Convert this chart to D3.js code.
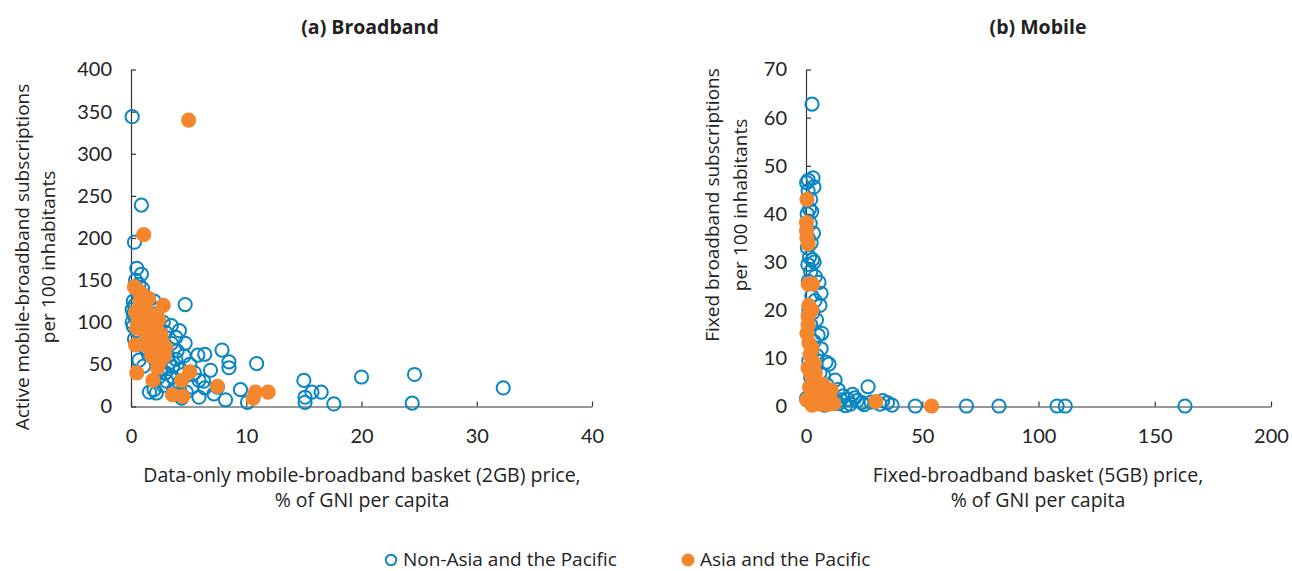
<!DOCTYPE html>
<html><head><meta charset="utf-8">
<script src="https://cdn.jsdelivr.net/npm/d3@7"></script>
<style>
body{margin:0;background:#fff;}
svg{display:block;font-family:"Open Sans",Lato,sans-serif;}
</style></head>
<body><svg id="c" width="1292" height="571"></svg>
<script>
// ---- Data ----
const seriesNames = ["Non-Asia and the Pacific", "Asia and the Pacific"];
const panelTitles = ["(a) Broadband", "(b) Mobile"];
const yTitlesA = ["Active mobile-broadband subscriptions", "per 100 inhabitants"];
const xTitlesA = ["Data-only mobile-broadband basket (2GB) price,", "% of GNI per capita"];
const yTitlesB = ["Fixed broadband subscriptions", "per 100 inhabitants"];
const xTitlesB = ["Fixed-broadband basket (5GB) price,", "% of GNI per capita"];
const xTicksA = [0, 10, 20, 30, 40];
const yTicksA = [0, 50, 100, 150, 200, 250, 300, 350, 400];
const xTicksB = [0, 50, 100, 150, 200];
const yTicksB = [0, 10, 20, 30, 40, 50, 60, 70];

// Panel (a): [price %, subscriptions per 100]
const broadbandNonAsia = [[0.1,344],[0.9,239],[0.3,195],[0.5,164],[0.9,157],[0.4,150],[0.7,145],[1.0,140],[0.2,125],[0.3,120],[0.1,115],[0.2,110],[0.4,105],[0.1,100],[1.5,128],[2.0,125],[1.8,118],[0.6,135],[1.1,132],[2.3,115],[4.7,121],[3.5,96],[2.8,100],[3.0,88],[2.6,82],[4.7,75],[4.0,66],[5.8,61],[6.4,62],[7.9,67],[8.5,53],[8.5,46],[10.9,51],[6.9,43],[5.9,31],[5.3,23],[6.4,22],[7.5,23],[9.5,20],[2.0,20],[2.2,16],[1.6,17],[8.2,8],[10.1,5],[5.9,11],[3.6,47],[3.2,60],[2.9,70],[3.3,52],[3.0,40],[3.6,35],[4.2,28],[4.5,38],[3.9,56],[4.3,44],[2.5,55],[2.6,45],[3.1,30],[3.7,20],[4.0,15],[4.8,17],[5.1,50],[4.6,60],[3.5,75],[1.5,62],[1.2,70],[0.8,85],[1.0,95],[0.5,90],[0.3,80],[0.2,95],[2.4,35],[2.8,25],[4.4,10],[6.3,30],[7.2,15],[5.5,40],[15.0,31],[15.1,11],[15.1,5],[15.7,17],[16.5,17],[17.6,3],[20.0,35],[24.6,38],[24.4,4],[32.3,22],[1.3,105],[2.1,90],[1.9,80],[0.7,55],[1.1,48],[3.9,82],[2.2,72],[4.2,90]];
const broadbandAsia = [[0.3,142],[0.6,138],[1.0,133],[1.5,128],[0.8,125],[1.3,118],[0.4,112],[1.0,110],[1.9,108],[2.4,103],[0.6,100],[1.5,100],[2.1,95],[0.5,93],[1.2,88],[2.6,86],[1.7,82],[2.7,77],[0.4,73],[1.4,72],[2.2,68],[1.8,60],[2.5,53],[2.3,46],[0.5,40],[1.9,31],[5.1,41],[4.4,31],[3.6,14],[4.5,12],[7.5,24],[10.8,17],[11.9,17],[10.6,10],[5.0,340],[1.1,204],[2.8,120],[3.0,70],[2.9,60]];

// Panel (b): [price %, subscriptions per 100]
const mobileNonAsia = [[2.6,62.8],[3,47.5],[1,47],[0.3,46.5],[3.4,45.6],[0.9,44.8],[2,43],[1.5,41],[2.5,40.5],[0.5,40],[1.8,38],[3.2,36],[1,35],[2.2,34],[0.6,33],[1.5,31],[2.8,30.5],[3.5,30],[0.8,29.5],[2,28],[4,27],[1,26],[5.6,25.8],[6.5,23.5],[2.5,23],[3.9,22],[6,21],[1.2,20],[3,19.5],[4.5,18],[2,17],[5.2,14.8],[6.8,15.2],[3.5,13.5],[6.5,12],[2.5,11],[4.8,10.5],[8.6,9.2],[9.9,8.8],[1.2,9.5],[3.8,8],[6,7],[7.5,6.5],[12.5,5.5],[2,6],[4.5,5],[9,4.5],[13.8,3.5],[6.5,3.5],[0.2,1.7],[3,2.5],[11,2],[16,2.2],[18,1.5],[20,2.5],[22,1.2],[24,0.8],[26.7,4.1],[19,0.5],[14,0.6],[28,0.9],[31.8,0.5],[35,0.8],[37,0.3],[47,0.1],[69,0.1],[83,0.1],[108,0.1],[111.5,0.1],[163,0.1],[8,0.3],[12,0.7],[17,0.2],[21,1.8],[25,0.4],[33,1.2],[5,1],[10,1.2],[15,1.4]];
const mobileAsia = [[0.4,43],[0.2,38.2],[0.2,36.5],[0.4,35],[0.9,33.8],[1.0,25.4],[2.8,25.4],[0.9,18.8],[0.9,17],[0.4,15.2],[1.3,13.2],[1.7,10.7],[0.9,8],[2.2,6.6],[4.7,5],[7.3,4.6],[5.2,2.4],[3,1.4],[8.6,1.8],[10.3,1.4],[10.8,3.4],[0.3,1.4],[30,1],[54,0.1],[2.6,0.3],[6,0.5],[9,0.4],[12,0.6],[1.5,4],[3.5,9],[2.5,12],[4,7],[1.2,21],[2.5,20],[6.5,3]];

// ---- Drawing ----
const BLUE = "#0a86c3", ORANGE = "#f4862e", AXIS = "#333", TXT = "#222";
const svg = d3.select("#c");

function panel(cfg) {
  const x = d3.scaleLinear().domain(cfg.xDomain).range([cfg.left, cfg.right]);
  const y = d3.scaleLinear().domain(cfg.yDomain).range([cfg.bottom, cfg.top]);
  const g = svg.append("g");

  g.append("text").attr("x", cfg.titleX).attr("y", 34).attr("text-anchor", "middle")
    .attr("font-size", 19.5).attr("font-weight", "bold").attr("fill", TXT).text(cfg.title);

  const ya = g.append("g").attr("transform", `translate(${cfg.left},0)`)
    .call(d3.axisLeft(y).tickValues(cfg.yTicks).tickSizeInner(-5).tickSizeOuter(0).tickPadding(19));
  const xa = g.append("g").attr("transform", `translate(0,${cfg.bottom})`)
    .call(d3.axisBottom(x).tickValues(cfg.xTicks).tickSizeInner(-5).tickSizeOuter(0).tickPadding(22));
  [ya, xa].forEach(a => {
    a.selectAll("path,line").attr("stroke", AXIS).attr("stroke-width", 1.2);
    a.selectAll("text").attr("font-size", 20).attr("fill", TXT).attr("font-family", "Lato,'Open Sans',sans-serif");
  });

  cfg.yTitle.forEach((t, i) => {
    g.append("text").attr("transform", `translate(${cfg.yTitleX[i]},${cfg.yTitleY}) rotate(-90)`)
      .attr("text-anchor", "middle").attr("font-size", 19).attr("fill", TXT).text(t);
  });
  cfg.xTitle.forEach((t, i) => {
    g.append("text").attr("x", cfg.xTitleX).attr("y", 482 + i * 25).attr("text-anchor", "middle")
      .attr("font-size", 19.5).attr("fill", TXT).text(t);
  });

  g.append("g").selectAll("circle").data(cfg.blue).join("circle")
    .attr("cx", d => x(d[0])).attr("cy", d => y(d[1])).attr("r", 6.6)
    .attr("fill", "none").attr("stroke", BLUE).attr("stroke-width", 2);
  g.append("g").selectAll("circle").data(cfg.orange).join("circle")
    .attr("cx", d => x(d[0])).attr("cy", d => y(d[1])).attr("r", 7.6)
    .attr("fill", ORANGE);
}

panel({xDomain:[0,40], yDomain:[0,400], left:131, right:592, top:69.5, bottom:406.5,
  xTicks:xTicksA, yTicks:yTicksA, title:panelTitles[0], titleX:370,
  yTitle:yTitlesA, yTitleX:[29, 55], yTitleY:257, xTitle:xTitlesA, xTitleX:362,
  blue:broadbandNonAsia, orange:broadbandAsia});
panel({xDomain:[0,200], yDomain:[0,70], left:806, right:1271, top:69.5, bottom:406.5,
  xTicks:xTicksB, yTicks:yTicksB, title:panelTitles[1], titleX:1038,
  yTitle:yTitlesB, yTitleX:[719, 747], yTitleY:205, xTitle:xTitlesB, xTitleX:1038,
  blue:mobileNonAsia, orange:mobileAsia});

// legend
const leg = svg.append("g");
leg.append("circle").attr("cx", 391).attr("cy", 560).attr("r", 5.2).attr("fill", "none")
  .attr("stroke", BLUE).attr("stroke-width", 2);
leg.append("text").attr("x", 403).attr("y", 566).attr("font-size", 19).attr("fill", TXT).text(seriesNames[0]);
leg.append("circle").attr("cx", 688).attr("cy", 560).attr("r", 6.5).attr("fill", ORANGE);
leg.append("text").attr("x", 700).attr("y", 566).attr("font-size", 19).attr("fill", TXT).text(seriesNames[1]);
</script></body></html>
